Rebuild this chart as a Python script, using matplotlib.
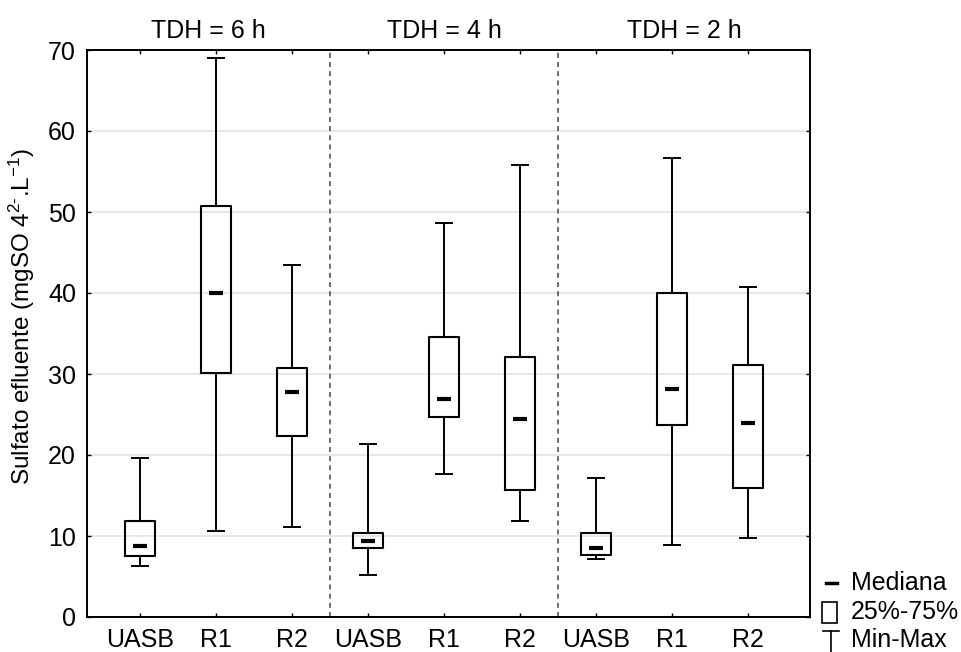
import matplotlib
matplotlib.use("Agg")
import matplotlib.pyplot as plt
from matplotlib.lines import Line2D
from matplotlib.patches import Rectangle

plt.rcParams['font.family'] = ['Liberation Sans', 'DejaVu Sans']
plt.rcParams['mathtext.fontset'] = 'custom'
plt.rcParams['mathtext.rm'] = 'Liberation Sans'
plt.rcParams['mathtext.it'] = 'Liberation Sans'

groups = ["TDH = 6 h", "TDH = 4 h", "TDH = 2 h"]
categories = ["UASB", "R1", "R2", "UASB", "R1", "R2", "UASB", "R1", "R2"]
mins = [6.3, 10.6, 11.1, 5.2, 17.7, 11.9, 7.2, 8.9, 9.8]
q1 = [7.5, 30.1, 22.4, 8.5, 24.7, 15.7, 7.7, 23.7, 15.9]
medians = [8.8, 40.0, 27.8, 9.4, 26.9, 24.5, 8.5, 28.1, 24.0]
q3 = [11.8, 50.8, 30.7, 10.4, 34.6, 32.1, 10.4, 40.0, 31.1]
maxs = [19.6, 69.0, 43.5, 21.4, 48.6, 55.8, 17.2, 56.7, 40.8]
y_ticks = [0, 10, 20, 30, 40, 50, 60, 70]

FS = 18
fig = plt.figure(figsize=(9.62, 6.52), dpi=100)
ax = fig.add_axes([87/962, 1 - 617/652, (810-87)/962, (617-50)/652])

positions = list(range(1, len(categories) + 1))
stats = []
for i in range(len(categories)):
    stats.append(dict(whislo=mins[i], q1=q1[i], med=medians[i], q3=q3[i],
                      whishi=maxs[i], fliers=[]))

ax.bxp(stats, positions=positions, widths=0.4, capwidths=0.2,
       showfliers=False,
       boxprops=dict(color='black', linewidth=1.5),
       whiskerprops=dict(color='black', linewidth=1.4),
       capprops=dict(color='black', linewidth=1.4),
       medianprops=dict(visible=False),
       zorder=3)
ax.hlines(medians, [p - 0.09 for p in positions], [p + 0.09 for p in positions],
          colors='black', linewidth=3, zorder=4)

# group separators
for xs in [3.5, 6.5]:
    ax.axvline(xs, color='#555555', linestyle=(0, (3, 2.5)), linewidth=1.2, zorder=2)

ax.set_xlim(1 - 53/76.1, 9 + 62/76.1)
ax.set_ylim(0, 70)
ax.set_yticks(y_ticks)
ax.set_yticklabels([str(t) for t in y_ticks], fontsize=FS)
ax.set_xticks(positions)
ax.set_xticklabels(categories, fontsize=FS)
ax.yaxis.grid(True, color='#e3e3e3', linewidth=1.2, zorder=0)
ax.set_axisbelow(True)
ax.tick_params(direction='in', length=3, width=1, top=True, right=True,
               pad=8)
for s in ax.spines.values():
    s.set_linewidth(1.4)

ax.set_ylabel(r"Sulfato efluente (mgSO $\mathregular{4^{2\text{-}}}$.L$\mathregular{^{-1}}$)",
              fontsize=17.5)
ax.yaxis.set_label_coords(-0.069, 0.53)

# group titles
bounds = [ax.get_xlim()[0], 3.5, 6.5, ax.get_xlim()[1]]
for g, name in enumerate(groups):
    xc = (bounds[g] + bounds[g + 1]) / 2
    ax.text(xc, 1.012, name, transform=ax.get_xaxis_transform(),
            ha='center', va='bottom', fontsize=FS)

# custom legend in figure pixel coordinates
W, H = 962, 652
def fx(x):
    return x / W
def fy(y):
    return 1 - y / H

fig.add_artist(Line2D([fx(826), fx(837)], [fy(583), fy(583)], color='black', linewidth=2.5))
fig.add_artist(Rectangle((fx(822), fy(623)), fx(837) - fx(822), fy(602) - fy(623),
                         fill=False, edgecolor='black', linewidth=1.2))
fig.add_artist(Line2D([fx(823), fx(839)], [fy(631), fy(631)], color='black', linewidth=1.2))
fig.add_artist(Line2D([fx(831), fx(831)], [fy(631), fy(652)], color='black', linewidth=1.2))
fig.text(fx(851), fy(583), "Mediana", fontsize=FS, va='center', ha='left')
fig.text(fx(851), fy(612), "25%-75%", fontsize=FS, va='center', ha='left')
fig.text(fx(851), fy(640), "Min-Max", fontsize=FS, va='center', ha='left')

fig.savefig("out.png", dpi=100)
